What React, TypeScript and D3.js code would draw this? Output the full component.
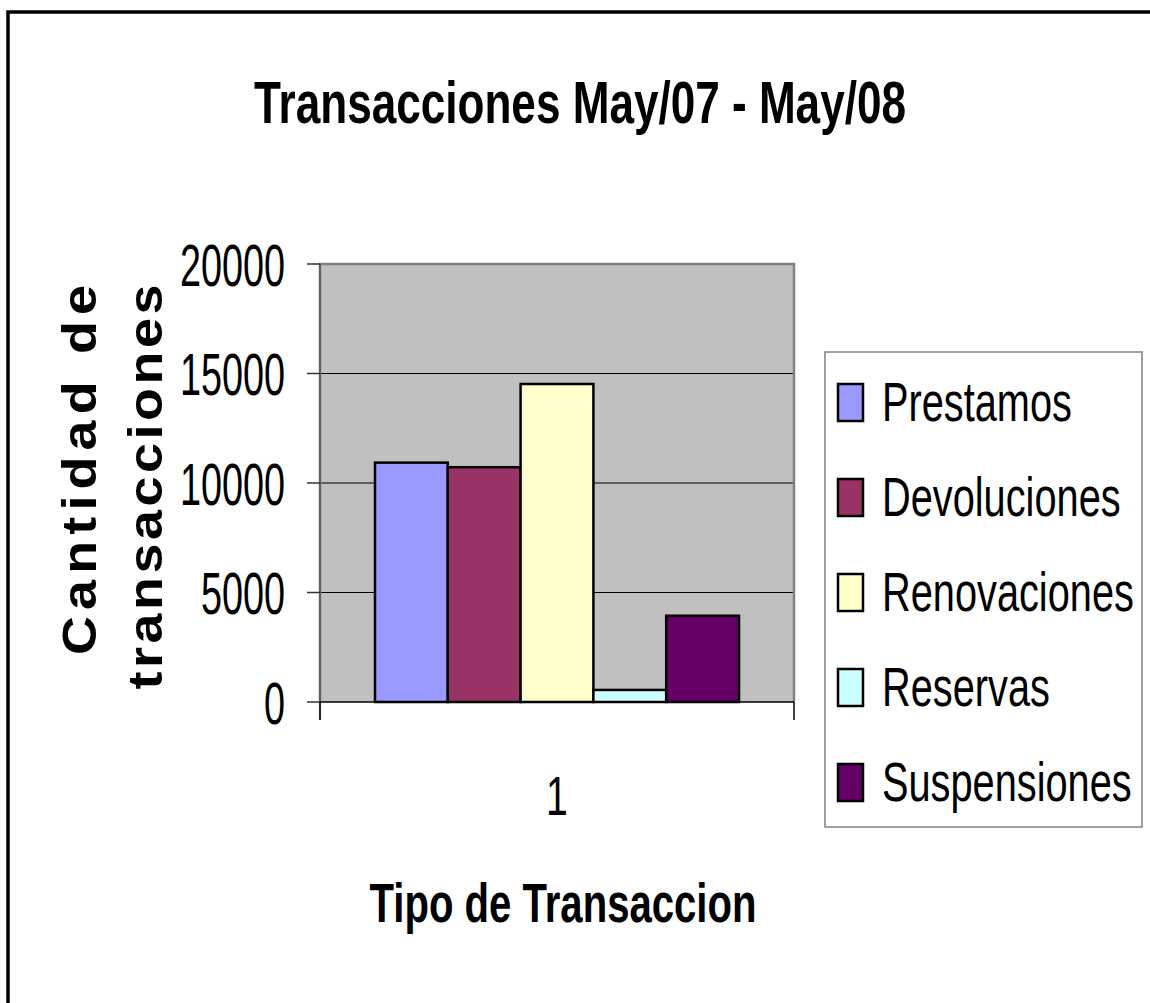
import * as d3 from 'd3';

// data
const categories = ['1'];
const seriesNames = ['Prestamos', 'Devoluciones', 'Renovaciones', 'Reservas', 'Suspensiones'];
const seriesValues = [10930, 10720, 14520, 550, 3940];
const seriesColors = ['#9999ff', '#993366', '#ffffcc', '#ccffff', '#660066'];
const yTicks = [0, 5000, 10000, 15000, 20000];

const W = 1150;
const H = 1003;
const FONT = '"Liberation Sans", Arial, Helvetica, sans-serif';

const plot = { left: 320, right: 794, top: 264, bottom: 702 };

export default function App() {
  const y = d3.scaleLinear().domain([0, 20000]).range([plot.bottom, plot.top]);

  const xCat = d3.scaleBand()
    .domain(categories)
    .range([plot.left, plot.right])
    .paddingInner(0.232)
    .paddingOuter(0.116);

  const xSeries = d3.scaleBand()
    .domain(seriesNames)
    .range([0, xCat.bandwidth()])
    .padding(0);

  const legend = { x: 825, y: 352, w: 317, h: 475 };

  return (
    <svg width={W} height={H} style={{ position: 'absolute', left: 0, top: 0, display: 'block', background: '#fff' }}
      fontFamily={FONT}>
      {/* outer frame */}
      <rect x={8} y={12} width={1200} height={1100} fill="none" stroke="#000" strokeWidth={3.5} />

      {/* title */}
      <text transform="translate(580,123) scale(0.735,1)" textAnchor="middle" fontSize={60} fontWeight="bold">
        Transacciones May/07 - May/08
      </text>

      {/* plot background */}
      <rect x={plot.left} y={plot.top} width={plot.right - plot.left} height={plot.bottom - plot.top} fill="#c0c0c0" />

      {/* gridlines */}
      {yTicks.filter(t => t > 0 && t < 20000).map(t => (
        <line key={'g' + t} x1={plot.left} x2={plot.right} y1={y(t)} y2={y(t)} stroke="#000" strokeWidth={1} />
      ))}

      {/* frame of the plot area */}
      <path d={`M${plot.left},${plot.bottom} V${plot.top} H${plot.right} V${plot.bottom}`}
        fill="none" stroke="#808080" strokeWidth={2.5} />

      {/* bars */}
      {categories.map(c => (
        <g key={c} transform={`translate(${xCat(c)},0)`}>
          {seriesNames.map((s, i) => (
            <rect key={s}
              x={xSeries(s)}
              y={y(seriesValues[i])}
              width={xSeries.bandwidth()}
              height={y(0) - y(seriesValues[i])}
              fill={seriesColors[i]}
              stroke="#000"
              strokeWidth={2.5} />
          ))}
        </g>
      ))}

      {/* y axis */}
      <line x1={plot.left} x2={plot.left} y1={plot.top} y2={plot.bottom + 18} stroke="#555" strokeWidth={1.5} />
      {yTicks.map(t => (
        <g key={'t' + t}>
          <line x1={plot.left - 13} x2={plot.left} y1={y(t)} y2={y(t)} stroke="#333" strokeWidth={1.5} />
          <text transform={`translate(285,${y(t) + 21.5}) scale(0.63,1)`} textAnchor="end" fontSize={60}>
            {t}
          </text>
        </g>
      ))}

      {/* x axis */}
      <line x1={plot.left} x2={plot.right} y1={plot.bottom} y2={plot.bottom} stroke="#000" strokeWidth={1.5} />
      {[plot.left, plot.right].map(px => (
        <line key={'xt' + px} x1={px} x2={px} y1={plot.bottom} y2={plot.bottom + 18} stroke="#000" strokeWidth={1.5} />
      ))}
      {categories.map(c => (
        <text key={'xl' + c} transform={`translate(${(xCat(c) ?? 0) + xCat.bandwidth() / 2},815) scale(0.7,1)`}
          textAnchor="middle" fontSize={56}>
          {c}
        </text>
      ))}

      {/* axis titles */}
      <text transform="translate(563,922) scale(0.716,1)" textAnchor="middle" fontSize={56} fontWeight="bold">
        Tipo de Transaccion
      </text>
      <text transform="translate(96,470) rotate(-90) scale(1.1,1)" textAnchor="middle" fontSize={49}
        fontWeight="bold" textLength={370 / 1.1} lengthAdjust="spacing">
        Cantidad de
      </text>
      <text transform="translate(162,487) rotate(-90) scale(1.1,1)" textAnchor="middle" fontSize={49}
        fontWeight="bold" textLength={405 / 1.1} lengthAdjust="spacing">
        transacciones
      </text>

      {/* legend */}
      <rect x={legend.x} y={legend.y} width={legend.w} height={legend.h} fill="#fff" stroke="#808080" strokeWidth={1.5} />
      {seriesNames.map((s, i) => (
        <g key={'l' + s} transform={`translate(0,${95 * i})`}>
          <rect x={838} y={384} width={25} height={37} fill={seriesColors[i]} stroke="#000" strokeWidth={2.5} />
          <text transform="translate(882,421) scale(0.71,1)" fontSize={56}>{s}</text>
        </g>
      ))}
    </svg>
  );
}
